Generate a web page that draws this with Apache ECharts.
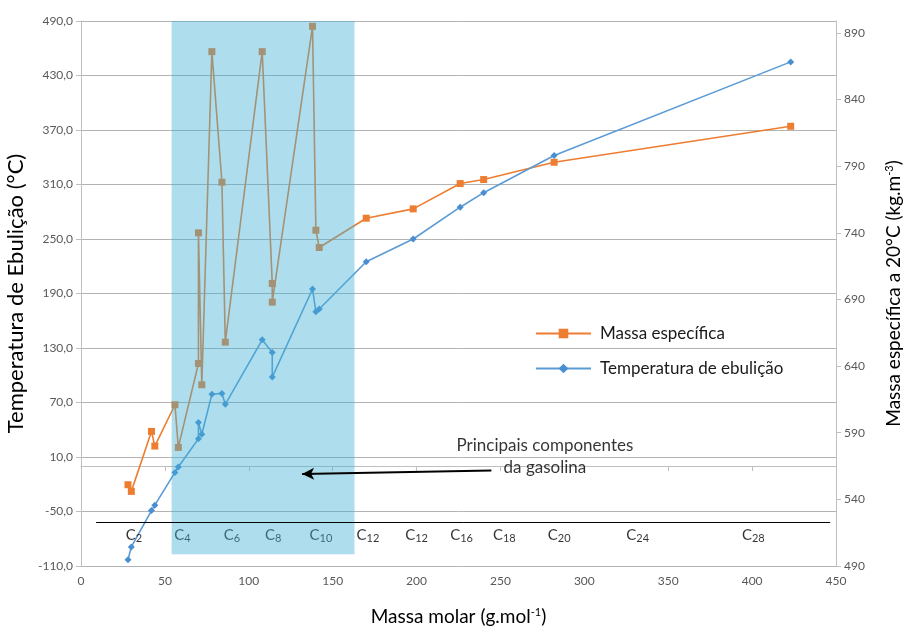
<!DOCTYPE html>
<html><head><meta charset="utf-8">
<script src="https://cdn.jsdelivr.net/npm/echarts/dist/echarts.min.js"></script>
<style>html,body{margin:0;padding:0;background:#fff}#c{width:903px;height:628px}</style>
</head><body><div id="c"></div>
<script>
// ---- data ----
const molarMass   = [28, 30, 42, 44, 56, 58, 70, 70, 72, 78, 84, 86, 108, 114, 114, 138, 140, 142, 170, 198, 226, 240, 282, 423];
const boilingTemp = [-103, -89, -49, -43, -7, -1, 30, 48, 35, 79, 80, 68, 139, 125, 98, 195, 170, 173, 225, 250, 285, 301, 342, 445];
const density     = [551, 546, 591, 580, 611, 579, 642, 740, 626, 876, 778, 658, 876, 702, 688, 895, 742, 729, 751, 758, 777, 780, 793, 820];
const carbonLabels = ['2', '4', '6', '8', '10', '12', '12', '16', '18', '20', '24', '28'];
const carbonLabelX = [31.5, 60.5, 90, 114.5, 143, 171, 200, 226.8, 252.3, 285, 331.8, 400.7];
const carbonLabelY = -76;
const gasolineBand = [54, 163, -97, 490];      // x0, x1, y0, y1 (left axis)
const baseLine = [[9, -61.6], [446.5, -61.6]];
const arrowLine = [[244.6, -4.9], [131.8, -8.7]];
const noteText = 'Principais componentes\nda gasolina';
const notePos = [276.5, 11];
const seriesNames = ['Massa específica', 'Temperatura de ebulição'];

const FONT = 'Lato, "Open Sans", sans-serif';
const tempData = molarMass.map((x, i) => [x, boilingTemp[i]]);
const densData = molarMass.map((x, i) => [x, density[i]]);
const cData = carbonLabelX.map((x, i) => ({ value: [x, carbonLabelY], lab: carbonLabels[i] }));

const supRich = { sup: { fontSize: 11, verticalAlign: 'top', padding: [0, 0, 9, 0], fontFamily: FONT, color: '#000' } };

const chart = echarts.init(document.getElementById('c'), null, { renderer: 'canvas' });
chart.setOption({
  animation: false,
  backgroundColor: '#fff',
  textStyle: { fontFamily: FONT },
  grid: { left: 81, right: 67, top: 21, bottom: 62, containLabel: false, outerBoundsMode: 'none' },
  legend: {
    data: seriesNames,
    orient: 'vertical',
    left: 530, top: 320,
    itemWidth: 55, itemHeight: 12, itemGap: 18,
    textStyle: { fontSize: 17, color: '#1a1a1a', fontFamily: FONT, padding: [0, 0, 0, 4] }
  },
  xAxis: {
    type: 'value', min: 0, max: 450, interval: 50,
    name: 'Massa molar (g.mol{sup|-1})', nameLocation: 'middle', nameGap: 41,
    nameTextStyle: { fontSize: 19, color: '#000', fontFamily: FONT, rich: supRich },
    axisLine: { lineStyle: { color: '#bfbfbf', width: 1 } },
    axisTick: { show: true, length: 5, lineStyle: { color: '#bfbfbf' } },
    axisLabel: { fontSize: 12, color: '#595959', margin: 9 },
    splitLine: { show: false }
  },
  yAxis: [{
    type: 'value', min: -110, max: 490, interval: 60, position: 'left',
    name: 'Temperatura de Ebulição (°C)', nameLocation: 'middle', nameGap: 49, nameRotate: 90,
    nameTextStyle: { fontSize: 22, color: '#000', fontFamily: FONT },
    axisLine: { show: true, lineStyle: { color: '#bfbfbf' } },
    axisTick: { show: true, length: 5, lineStyle: { color: '#bfbfbf' } },
    axisLabel: { fontSize: 12, color: '#595959', margin: 8, formatter: v => v.toFixed(1).replace('.', ',') },
    splitLine: { show: true, lineStyle: { color: '#b3b3b3', width: 1 } }
  }, {
    type: 'value', min: 490, max: 899, interval: 50, position: 'right',
    name: 'Massa específica a 20°C (kg.m{sup|-3})', nameLocation: 'middle', nameGap: 48, nameRotate: 90,
    nameTextStyle: { fontSize: 19, color: '#000', fontFamily: FONT, rich: supRich },
    axisLine: { show: true, lineStyle: { color: '#bfbfbf' } },
    axisTick: { show: true, length: 5, lineStyle: { color: '#bfbfbf' } },
    axisLabel: { fontSize: 12, color: '#595959', margin: 8, showMaxLabel: false,
      formatter: v => (v > 890 ? '' : String(v)) },
    splitLine: { show: false }
  }],
  series: [
    {
      name: seriesNames[0], type: 'line', yAxisIndex: 1, data: densData, z: 2,
      symbol: 'rect', symbolSize: 7,
      lineStyle: { color: '#ed7d31', width: 1.6 },
      itemStyle: { color: '#ed7d31' }
    },
    {
      name: seriesNames[1], type: 'line', yAxisIndex: 0, data: tempData, z: 2,
      symbol: 'diamond', symbolSize: 7,
      lineStyle: { color: '#5b9bd5', width: 1.6 },
      itemStyle: { color: '#4a8ed2' }
    },
    {
      name: 'carbonos', type: 'scatter', yAxisIndex: 0, data: cData, z: 3,
      symbolSize: 0, silent: true,
      label: {
        show: true, position: 'inside', color: '#000',
        formatter: p => '{c|C}{s|' + p.data.lab + '}',
        rich: {
          c: { fontSize: 15, fontFamily: FONT, color: '#000' },
          s: { fontSize: 11, fontFamily: FONT, color: '#000', verticalAlign: 'bottom', padding: [7, 0, 0, 0] }
        }
      }
    },
    {
      name: 'faixa', type: 'custom', yAxisIndex: 0, z: 4, silent: true,
      data: [gasolineBand],
      encode: { x: [0, 1], y: [2, 3] },
      renderItem: (params, api) => {
        const p0 = api.coord([api.value(0), api.value(3)]);
        const p1 = api.coord([api.value(1), api.value(2)]);
        return { type: 'rect', shape: { x: p0[0], y: p0[1], width: p1[0] - p0[0], height: p1[1] - p0[1] },
                 style: { fill: 'rgba(62,176,212,0.42)' } };
      }
    },
    {
      name: 'notas', type: 'scatter', yAxisIndex: 0, z: 6, silent: true,
      data: [{ value: notePos }], symbolSize: 0,
      label: { show: true, position: 'inside', formatter: noteText, fontSize: 17, lineHeight: 22,
               color: '#000', fontFamily: FONT, align: 'center' },
      markLine: {
        silent: true, z: 6, animation: false,
        label: { show: false },
        data: [
          [{ coord: baseLine[0], symbol: 'none' }, { coord: baseLine[1], symbol: 'none',
             lineStyle: { color: '#000', width: 1, type: 'solid' } }],
          [{ coord: arrowLine[0], symbol: 'none' }, { coord: arrowLine[1], symbol: 'arrow', symbolSize: [9, 12],
             lineStyle: { color: '#000', width: 2, type: 'solid' } }]
        ],
        lineStyle: { color: '#000', width: 1, type: 'solid' }
      }
    }
  ]
});
</script></body></html>
